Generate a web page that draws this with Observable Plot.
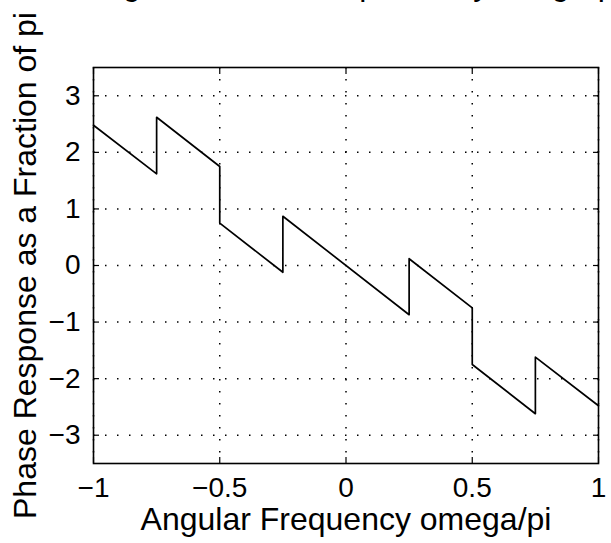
<!DOCTYPE html>
<html>
<head>
<meta charset="utf-8">
<script src="https://cdn.jsdelivr.net/npm/d3@7"></script>
<script src="https://cdn.jsdelivr.net/npm/@observablehq/plot@0.6"></script>
<style>
  html, body { margin: 0; padding: 0; background: white; }
  #chart svg { display: block; }
</style>
</head>
<body>
<div id="chart"></div>
<script>
// Angular frequency (omega/pi) break points of the phase curve
const omega = [-1, -0.75, -0.75, -0.5, -0.5, -0.25, -0.25, 0.25, 0.25, 0.5, 0.5, 0.75, 0.75, 1];
// Phase response
const phase = [2.48, 1.62, 2.62, 1.75, 0.75, -0.12, 0.87, -0.87, 0.12, -0.75, -1.75, -2.62, -1.62, -2.48];

const xTicks = [-1, -0.5, 0, 0.5, 1];
const yTicks = [-3, -2, -1, 0, 1, 2, 3];

const titleText = "Using the Phase Response by the graph";
const xLabel = "Angular Frequency omega/pi";
const yLabel = "Phase Response as a Fraction of pi";

const data = omega.map((x, i) => ({x, y: phase[i]}));

const font = "'Liberation Sans', Arial, Helvetica, sans-serif";
const dots = {stroke: "black", strokeOpacity: 1, strokeWidth: 1.5, strokeDasharray: "1.5,10.5"};
const fmt = d => (d < 0 ? "\u2212" : "") + String(Math.abs(d));

const chart = Plot.plot({
  width: 611,
  height: 543,
  marginLeft: 93,
  marginRight: 13,
  marginTop: 67,
  marginBottom: 80,
  style: {fontFamily: font, color: "black", background: "white", overflow: "visible"},
  x: {domain: [-1, 1]},
  y: {domain: [-3.5, 3.5]},
  marks: [
    Plot.gridX(xTicks, dots),
    Plot.gridY(yTicks, dots),
    Plot.axisX({anchor: "bottom", ticks: xTicks, tickSize: 0, tickPadding: 14, fontSize: 28, tickFormat: fmt, label: null}),
    Plot.axisY({anchor: "left", ticks: yTicks, tickSize: 0, tickPadding: 13, fontSize: 28, tickFormat: fmt, label: null}),
    Plot.axisX({anchor: "bottom", ticks: xTicks, tickSize: -6, tickFormat: () => "", label: null, strokeWidth: 1.2}),
    Plot.axisX({anchor: "top", ticks: xTicks, tickSize: -6, tickFormat: () => "", label: null, strokeWidth: 1.2}),
    Plot.axisY({anchor: "left", ticks: yTicks, tickSize: -6, tickFormat: () => "", label: null, strokeWidth: 1.2}),
    Plot.axisY({anchor: "right", ticks: yTicks, tickSize: -6, tickFormat: () => "", label: null, strokeWidth: 1.2}),
    Plot.line(data, {x: "x", y: "y", stroke: "black", strokeWidth: 1.7}),
    Plot.frame({stroke: "black", strokeWidth: 1.6}),
    Plot.text([xLabel], {frameAnchor: "bottom", dy: 56, textAnchor: "middle", lineAnchor: "middle", fontSize: 32, fill: "black"}),
    Plot.text([yLabel], {frameAnchor: "left", dx: -68, rotate: -90, textAnchor: "middle", lineAnchor: "middle", fontSize: 32, fill: "black"}),
    Plot.text([titleText], {frameAnchor: "top", dy: -73, textAnchor: "middle", lineAnchor: "bottom", fontSize: 32, fill: "black"})
  ]
});
document.getElementById("chart").appendChild(chart);
</script>
</body>
</html>
